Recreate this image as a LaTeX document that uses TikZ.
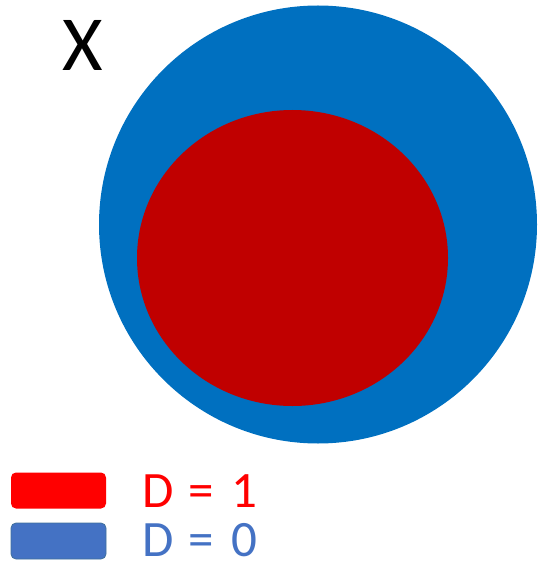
\documentclass[tikz,border=0pt]{standalone}
\usepackage{fontspec}
\setmainfont{Carlito}
\definecolor{outerblue}{HTML}{0070C0}
\definecolor{innerred}{HTML}{C00000}
\definecolor{legred}{HTML}{FF0000}
\definecolor{legblue}{HTML}{4472C4}
\definecolor{legblueedge}{HTML}{41719C}
\tikzset{
  legbox/.style={rounded corners=5pt, minimum width=95pt, minimum height=36pt, inner sep=0pt},
  legtext/.style={anchor=base west, inner sep=0pt, font=\fontsize{51}{51}\selectfont},
}
\begin{document}
\begin{tikzpicture}[x=1pt,y=-1pt]
\useasboundingbox (0,0) rectangle (542,561);
\fill[outerblue] (318,224.5) circle[radius=219];
\fill[innerred] (292.5,258) ellipse[x radius=155.5, y radius=148];
\node[inner sep=0pt, font=\fontsize{78}{78}\selectfont] (xlabel) at (82.5,45) {X};
\node[legbox, fill=legred] (redbox) at (58.5,490.5) {};
\node[legbox, fill=legblue, draw=legblueedge, line width=0.8pt] (bluebox) at (58.5,541) {};
\node[legtext, text=legred] (d1) at (142,507) {D\hspace{0.3em}=\hspace{0.34em}1};
\node[legtext, text=legblue] (d0) at (142,556) {D\hspace{0.3em}=\hspace{0.34em}0};
\end{tikzpicture}
\end{document}
